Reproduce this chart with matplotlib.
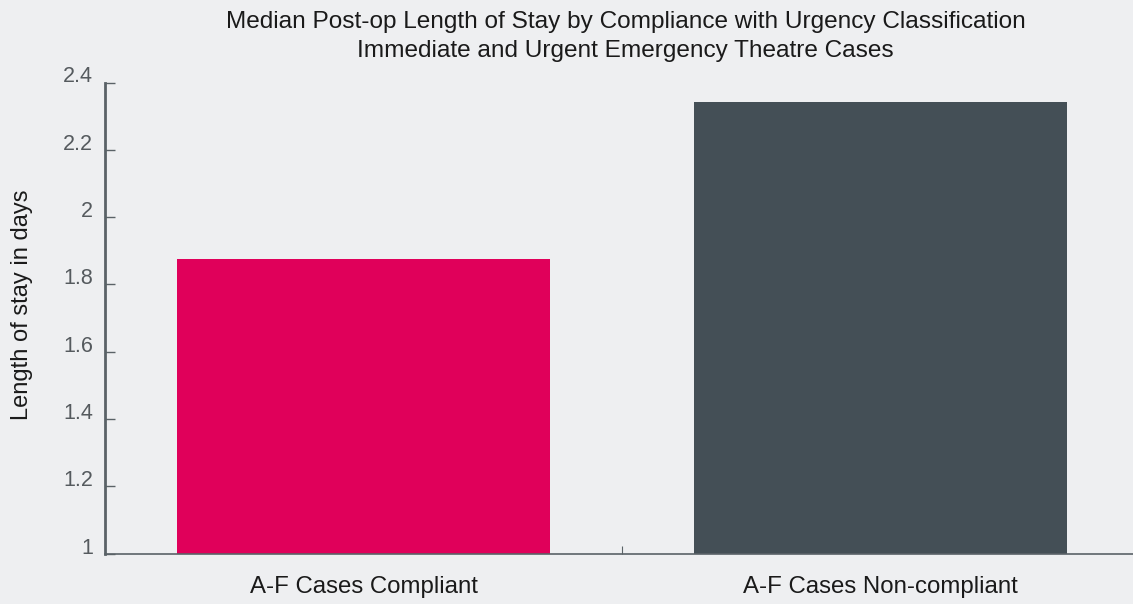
import matplotlib.pyplot as plt

categories = ['A-F Cases Compliant', 'A-F Cases Non-compliant']
median_los = [1.875, 2.342]
bar_colors = ['#e0005a', '#444f56']
y_ticks = [1, 1.2, 1.4, 1.6, 1.8, 2, 2.2, 2.4]
y_tick_labels = ['1', '1.2', '1.4', '1.6', '1.8', '2', '2.2', '2.4']

bg = '#eeeff1'
axis_col = '#5a6267'

plt.rcParams['font.family'] = ['Liberation Sans', 'DejaVu Sans']

fig = plt.figure(figsize=(11.33, 6.04), dpi=100, facecolor=bg)
# axes deliberately runs a bit past the right edge, as in the reference
ax = fig.add_axes([105 / 1133, (604 - 553.5) / 604, 1034 / 1133, 471 / 604])
ax.set_facecolor(bg)

x = list(range(len(categories)))
ax.bar(x, median_los, width=0.72, color=bar_colors, zorder=2)

ax.set_xlim(-0.5, 1.5)
ax.set_ylim(1, 2.4)

# category boundaries get the tick marks, labels sit on the categories
ax.set_xticks([0.5, 1.5])
ax.set_xticklabels([])
ax.set_xticks(x, minor=True)
ax.set_xticklabels(categories, minor=True, fontsize=17.3, color='#1a1a1a')
ax.tick_params(axis='x', which='major', direction='in', length=6, color=axis_col)
ax.tick_params(axis='x', which='minor', length=0, pad=16)

ax.set_yticks(y_ticks)
ax.set_yticklabels(y_tick_labels, fontsize=15.5, color='#555a5e')
ax.tick_params(axis='y', direction='in', length=7, width=1, color=axis_col, pad=8.5)
for lbl in ax.get_yticklabels():
    lbl.set_verticalalignment('baseline')

for s in ['top', 'right']:
    ax.spines[s].set_visible(False)
ax.spines['left'].set_color(axis_col)
ax.spines['left'].set_linewidth(2)
ax.spines['bottom'].set_color(axis_col)
ax.spines['bottom'].set_linewidth(1.2)

fig.text(22 / 1133, 1 - 305 / 604, 'Length of stay in days', rotation=90,
         ha='center', va='center', fontsize=17, color='#1a1a1a')

fig.text(0.552, 0.963, 'Median Post-op Length of Stay by Compliance with Urgency Classification',
         ha='center', va='center', fontsize=17.6, color='#1a1a1a')
fig.text(0.552, 0.915, 'Immediate and Urgent Emergency Theatre Cases',
         ha='center', va='center', fontsize=17.6, color='#1a1a1a')

fig.savefig('out.png', dpi=100, facecolor=bg)
